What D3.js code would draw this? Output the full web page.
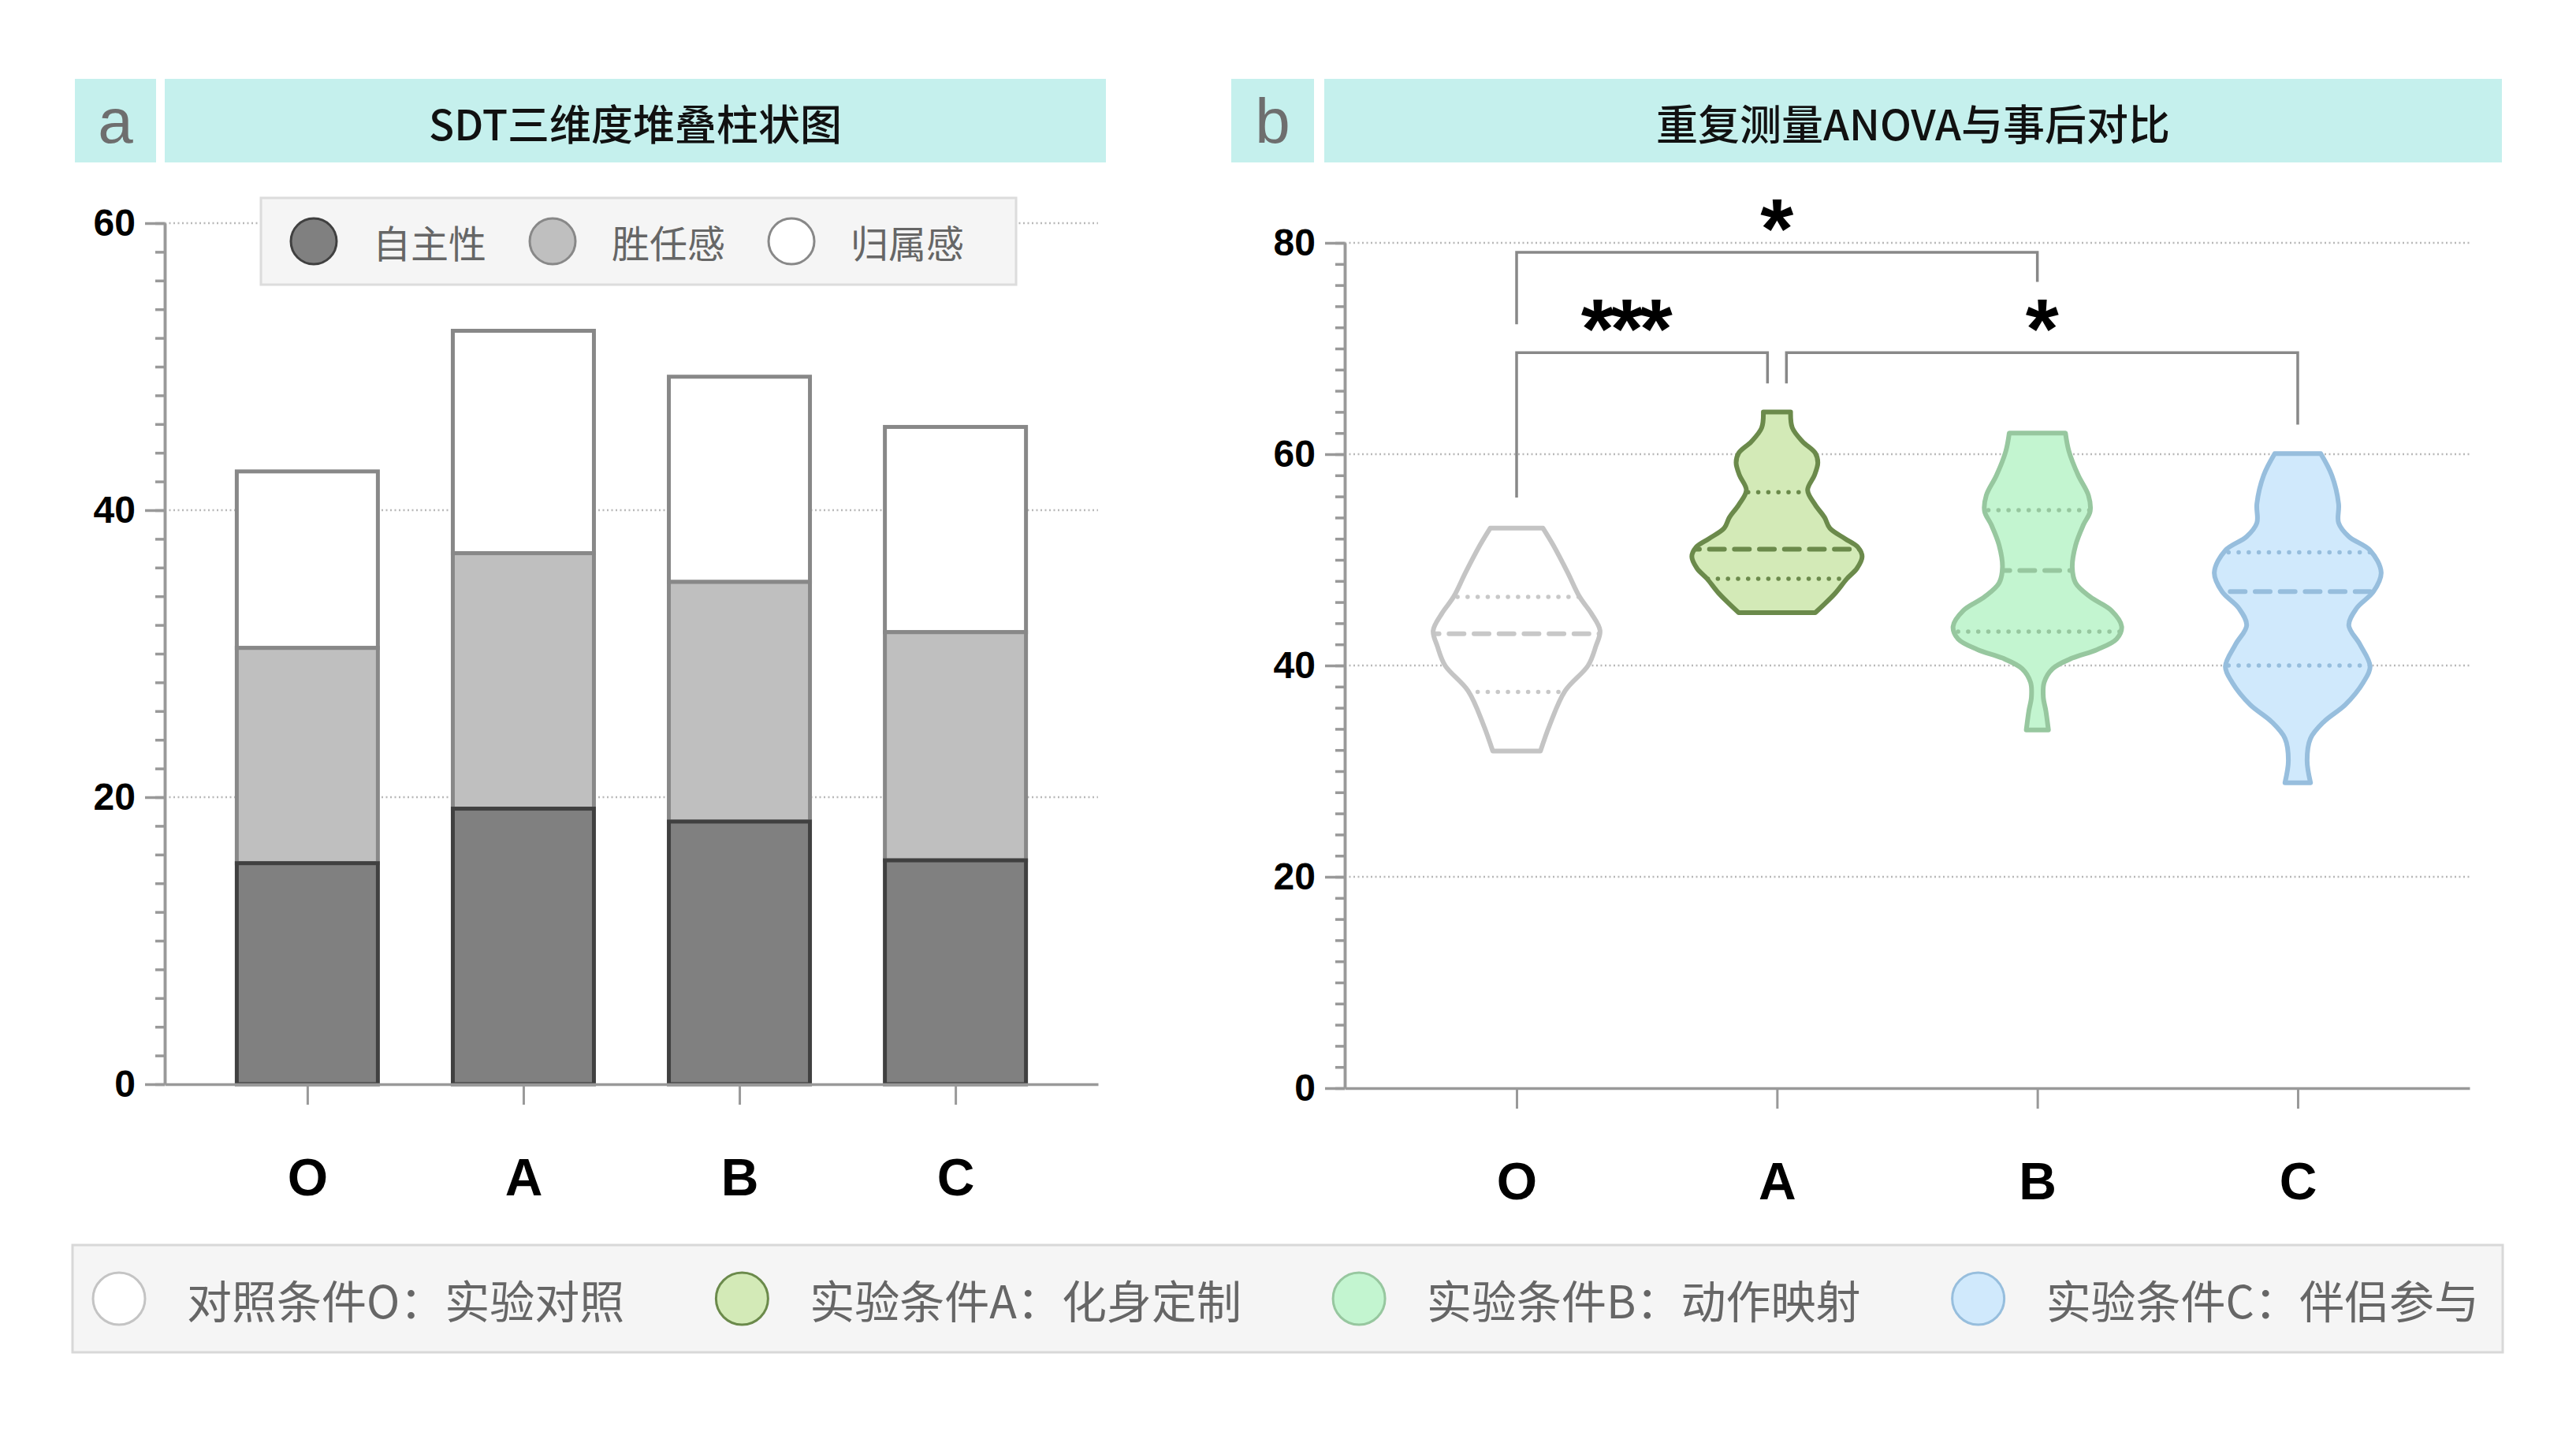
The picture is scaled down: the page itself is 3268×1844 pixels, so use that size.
<!DOCTYPE html>
<html>
<head>
<meta charset="utf-8">
<script src="https://cdn.jsdelivr.net/npm/d3@7"></script>
<style>
  body { margin: 0; background: #fff; }
  svg { display: block; }
</style>
</head>
<body>
<svg id="chart" width="3268" height="1844"></svg>
<script>
// ---- data ----

const conditions = ["O", "A", "B", "C"];

// panel a: stacked SDT scores
const sdtKeys = ["自主性", "胜任感", "归属感"];
const autonomy = [15.4, 19.2, 18.3, 15.6];
const competence = [15.0, 17.8, 16.7, 15.9];
const relatedness = [12.3, 15.5, 14.3, 14.3];

// panel b: violin outlines, [value, relative density]
const violinO = [[53.0,0.31],[51.4,0.43],[48.8,0.60],[46.5,0.74],[44.9,0.88],[43.3,0.98],[41.8,0.93],[40.0,0.84],[37.6,0.57],[34.4,0.39],[31.9,0.28]];
const violinA = [[64.0,0.16],[62.5,0.18],[61.2,0.30],[60.1,0.45],[59.2,0.48],[58.0,0.44],[56.6,0.36],[55.2,0.45],[54.0,0.56],[53.0,0.62],[52.0,0.80],[51.2,0.95],[50.3,1.0],[49.2,0.94],[48.2,0.82],[46.8,0.68],[45.0,0.45]];
const violinB = [[62.0,0.33],[60.3,0.37],[58.0,0.48],[56.1,0.60],[54.6,0.62],[53.3,0.54],[51.4,0.45],[49.3,0.41],[47.8,0.45],[46.5,0.62],[45.2,0.87],[43.7,0.99],[42.5,0.93],[41.5,0.70],[40.7,0.41],[39.7,0.18],[38.4,0.08],[37.0,0.07],[35.7,0.10],[33.9,0.13]];
const violinC = [[60.05,0.27],[58.0,0.40],[55.3,0.48],[53.5,0.48],[52.2,0.60],[50.9,0.85],[48.8,0.98],[47.0,0.89],[45.4,0.69],[43.8,0.60],[42.0,0.73],[39.9,0.85],[38.4,0.77],[36.3,0.56],[34.7,0.31],[33.1,0.15],[31.0,0.11],[28.9,0.15]];

// quartiles [q1, median, q3]
const quartO = [37.5, 43.0, 46.5];
const quartA = [48.2, 51.0, 56.4];
const quartB = [43.2, 49.0, 54.7];
const quartC = [40.0, 47.0, 50.7];

// significance brackets
const bracketFrom = ["O", "O", "A"];
const bracketTo = ["B", "A", "C"];
const bracketLevel = [79.1, 69.6, 69.6];
const bracketLegFrom = [72.3, 55.9, 66.7];
const bracketLegTo = [76.3, 66.7, 62.8];
const bracketLabel = ["*", "***", "*"];

const conditionLegend = ["对照条件O：实验对照", "实验条件A：化身定制", "实验条件B：动作映射", "实验条件C：伴侣参与"];

const panelTitles = ["SDT三维度堆叠柱状图", "重复测量ANOVA与事后对比"];
const panelLetters = ["a", "b"];

// ---- styles ----
const sdtFill = ["#808080", "#bfbfbf", "#ffffff"];
const sdtStroke = ["#404040", "#888888", "#888888"];
const violinFill = ["#ffffff", "#d3eab7", "#c3f5d0", "#d0e9fc"];
const violinStroke = ["#c4c4c4", "#6b8a4b", "#97c79f", "#97bedd"];
const violinLine = ["#c8c8c8", "#6b8a4b", "#97c79f", "#97bedd"];

const LATIN = "'Liberation Sans', Arial, Helvetica, sans-serif";
const CJK = "'Noto Sans CJK SC', 'Noto Sans', sans-serif";
const axisColor = "#999";
const gridColor = "#b8b8b8";

const svg = d3.select("#chart");
svg.append("rect").attr("width", 3268).attr("height", 1844).attr("fill", "#fff");

// ---- panel headers ----
const headers = [
  { lx: 95, lw: 103, tx: 209, tw: 1194 },
  { lx: 1562, lw: 105, tx: 1680, tw: 1494 }
];
headers.forEach((h, i) => {
  const g = svg.append("g");
  g.append("rect").attr("x", h.lx).attr("y", 100).attr("width", h.lw).attr("height", 106).attr("fill", "#c5f0ed");
  g.append("rect").attr("x", h.tx).attr("y", 100).attr("width", h.tw).attr("height", 106).attr("fill", "#c5f0ed");
  g.append("text").attr("x", h.lx + h.lw / 2).attr("y", 153)
    .attr("text-anchor", "middle").attr("dominant-baseline", "central")
    .attr("font-family", LATIN).attr("font-size", 80).attr("fill", "#6e6e6e")
    .text(panelLetters[i]);
  g.append("text").attr("x", h.tx + h.tw / 2).attr("y", 155)
    .attr("text-anchor", "middle").attr("dominant-baseline", "central")
    .attr("font-family", CJK).attr("font-size", 53).attr("font-weight", 500).attr("fill", "#111")
    .text(panelTitles[i]);
});

// shared axis drawing
function drawYAxis(g, y, max, x0) {
  const minor = d3.axisLeft(y).tickValues(d3.range(0, max + 1, 2)).tickSize(12).tickSizeOuter(0).tickFormat("");
  const major = d3.axisLeft(y).tickValues(d3.range(0, max + 1, 20)).tickSize(25).tickSizeOuter(0).tickPadding(12);
  const gm = g.append("g").attr("transform", `translate(${x0},0)`).call(minor);
  const gM = g.append("g").attr("transform", `translate(${x0},0)`).call(major);
  [gm, gM].forEach(a => {
    a.select(".domain").attr("stroke", axisColor).attr("stroke-width", 3.5);
    a.selectAll(".tick line").attr("stroke", axisColor).attr("stroke-width", 3.5);
  });
  gM.selectAll(".tick text").attr("font-family", LATIN).attr("font-size", 48)
    .attr("font-weight", "bold").attr("fill", "#000");
}
function drawXAxis(g, x, yPos) {
  const ax = d3.axisBottom(x).tickSize(26).tickSizeOuter(0).tickPadding(68);
  const gx = g.append("g").attr("transform", `translate(0,${yPos})`).call(ax);
  gx.select(".domain").attr("stroke", axisColor).attr("stroke-width", 3.5);
  gx.selectAll(".tick line").attr("stroke", axisColor).attr("stroke-width", 3);
  gx.selectAll(".tick text").attr("font-family", LATIN).attr("font-size", 66)
    .attr("font-weight", "bold").attr("fill", "#000");
}
function drawGrid(g, y, values, xr) {
  g.append("g").selectAll("line").data(values).join("line")
    .attr("x1", xr[0]).attr("x2", xr[1])
    .attr("y1", d => y(d)).attr("y2", d => y(d))
    .attr("stroke", gridColor).attr("stroke-width", 2.5).attr("stroke-dasharray", "2 3.5");
}

// ---- panel a: stacked bars ----
const xa = d3.scalePoint().domain(conditions).range([209, 1393]).padding(0.66);
const ya = d3.scaleLinear().domain([0, 60]).range([1375, 283]);
const barW = 179;
const ga = svg.append("g");
drawGrid(ga, ya, [20, 40, 60], [209, 1393]);

const stackRows = conditions.map((c, i) => ({
  cond: c, [sdtKeys[0]]: autonomy[i], [sdtKeys[1]]: competence[i], [sdtKeys[2]]: relatedness[i]
}));
const series = d3.stack().keys(sdtKeys)(stackRows);
// draw top layers first so the darker borders sit on the seams
series.slice().reverse().forEach(s => {
  const k = sdtKeys.indexOf(s.key);
  ga.append("g").selectAll("rect").data(s).join("rect")
    .attr("x", d => xa(d.data.cond) - barW / 2)
    .attr("width", barW)
    .attr("y", d => ya(d[1]))
    .attr("height", d => ya(d[0]) - ya(d[1]))
    .attr("fill", sdtFill[k]).attr("stroke", sdtStroke[k]).attr("stroke-width", 5);
});
drawYAxis(ga, ya, 60, 209);
drawXAxis(ga, xa, 1375);

// top legend
const lg = ga.append("g");
const lgBox = lg.append("rect").attr("x", 331).attr("y", 251).attr("height", 110)
  .attr("fill", "#f5f5f5").attr("stroke", "#dcdcdc").attr("stroke-width", 3);
let lx = 331 + 38;
sdtKeys.forEach((k, i) => {
  lg.append("circle").attr("cx", lx + 29).attr("cy", 306).attr("r", 29)
    .attr("fill", sdtFill[i]).attr("stroke", i === 0 ? "#404040" : "#888").attr("stroke-width", 3);
  const t = lg.append("text").attr("x", lx + 58 + 46).attr("y", 306)
    .attr("dominant-baseline", "central").attr("font-family", CJK).attr("font-size", 48).attr("fill", "#666")
    .text(k);
  lx = lx + 58 + 46 + t.node().getComputedTextLength() + 55;
});
lgBox.attr("width", lx - 55 + 66 - 331);

// ---- panel b: violins ----
const xb = d3.scalePoint().domain(conditions).range([1706, 3133]).padding(0.66);
const yb = d3.scaleLinear().domain([0, 80]).range([1380, 308]);
const wb = d3.scaleLinear().domain([0, 1]).range([0, 108]);
const gb = svg.append("g");
drawGrid(gb, yb, [20, 40, 60, 80], [1706, 3133]);

const violins = [violinO, violinA, violinB, violinC];
const quarts = [quartO, quartA, quartB, quartC];
const defs = svg.append("defs");
conditions.forEach((c, i) => {
  const cx = xb(c);
  const area = d3.area()
    .curve(d3.curveCatmullRom.alpha(0.5))
    .y(d => yb(d[0]))
    .x0(d => cx - wb(d[1]))
    .x1(d => cx + wb(d[1]));
  const path = area(violins[i]);
  defs.append("clipPath").attr("id", "vclip" + i).append("path").attr("d", path);
  const g = gb.append("g");
  g.append("path").attr("d", path).attr("fill", violinFill[i]);
  const lines = g.append("g").attr("clip-path", `url(#vclip${i})`);
  quarts[i].forEach((q, j) => {
    const med = j === 1;
    lines.append("line")
      .attr("x1", cx - wb(1.05)).attr("x2", cx + wb(1.05))
      .attr("y1", yb(q)).attr("y2", yb(q))
      .attr("stroke", violinLine[i])
      .attr("stroke-width", med ? 6 : 5.5)
      .attr("stroke-linecap", "round")
      .attr("stroke-dasharray", med ? "19 12.7" : "0.1 12.7")
      .attr("stroke-dashoffset", med ? 4 : 0);
  });
  g.append("path").attr("d", path).attr("fill", "none")
    .attr("stroke", violinStroke[i]).attr("stroke-width", 6).attr("stroke-linejoin", "round");
});
drawYAxis(gb, yb, 80, 1706);
drawXAxis(gb, xb, 1380);

// significance brackets
const nudge = 12;
const gs = gb.append("g");
bracketLabel.forEach((lab, i) => {
  // where two brackets meet at one category, pull the ends apart a little
  const shared = c => bracketFrom.filter((f, j) => j !== i && (f === c || bracketTo[j] === c) && Math.abs(bracketLevel[j] - bracketLevel[i]) < 2).length > 0;
  const x1 = xb(bracketFrom[i]) + (shared(bracketFrom[i]) ? nudge : 0);
  const x2 = xb(bracketTo[i]) - (shared(bracketTo[i]) ? nudge : 0);
  const yl = yb(bracketLevel[i]);
  gs.append("path")
    .attr("d", `M${x1},${yb(bracketLegFrom[i])}V${yl}H${x2}V${yb(bracketLegTo[i])}`)
    .attr("fill", "none").attr("stroke", "#888").attr("stroke-width", 3.5);
  gs.append("text")
    .attr("x", (x1 + x2) / 2 + (lab.length > 1 ? -22 : 0))
    .attr("y", yb(bracketLevel[i] + 3.5) + 54)
    .attr("text-anchor", "middle")
    .attr("letter-spacing", lab.length > 1 ? -5 : 0)
    .attr("font-family", LATIN).attr("font-size", 108).attr("font-weight", "bold").attr("fill", "#000")
    .text(lab);
});

// ---- bottom legend ----
const bl = svg.append("g");
const blX = 92, blW = 3083, blY = 1579, blH = 136;
bl.append("rect").attr("x", blX).attr("y", blY).attr("width", blW).attr("height", blH)
  .attr("fill", "#f5f5f5").attr("stroke", "#d8d8d8").attr("stroke-width", 3);
const items = conditionLegend.map((txt, i) => {
  const g = bl.append("g");
  g.append("circle").attr("cx", 33).attr("cy", blY + blH / 2).attr("r", 33)
    .attr("fill", violinFill[i]).attr("stroke", i === 0 ? "#c4c4c4" : violinStroke[i]).attr("stroke-width", 3);
  const t = g.append("text").attr("x", 66 + 53).attr("y", blY + blH / 2)
    .attr("dominant-baseline", "central").attr("font-family", CJK).attr("font-size", 57).attr("fill", "#666")
    .text(txt);
  return { g, w: 66 + 53 + t.node().getComputedTextLength() };
});
const padL = 26, padR = 30;
const free = blW - padL - padR - d3.sum(items, d => d.w);
let bx = blX + padL;
items.forEach(it => {
  it.g.attr("transform", `translate(${bx},0)`);
  bx += it.w + free / (items.length - 1);
});
</script>
</body>
</html>
